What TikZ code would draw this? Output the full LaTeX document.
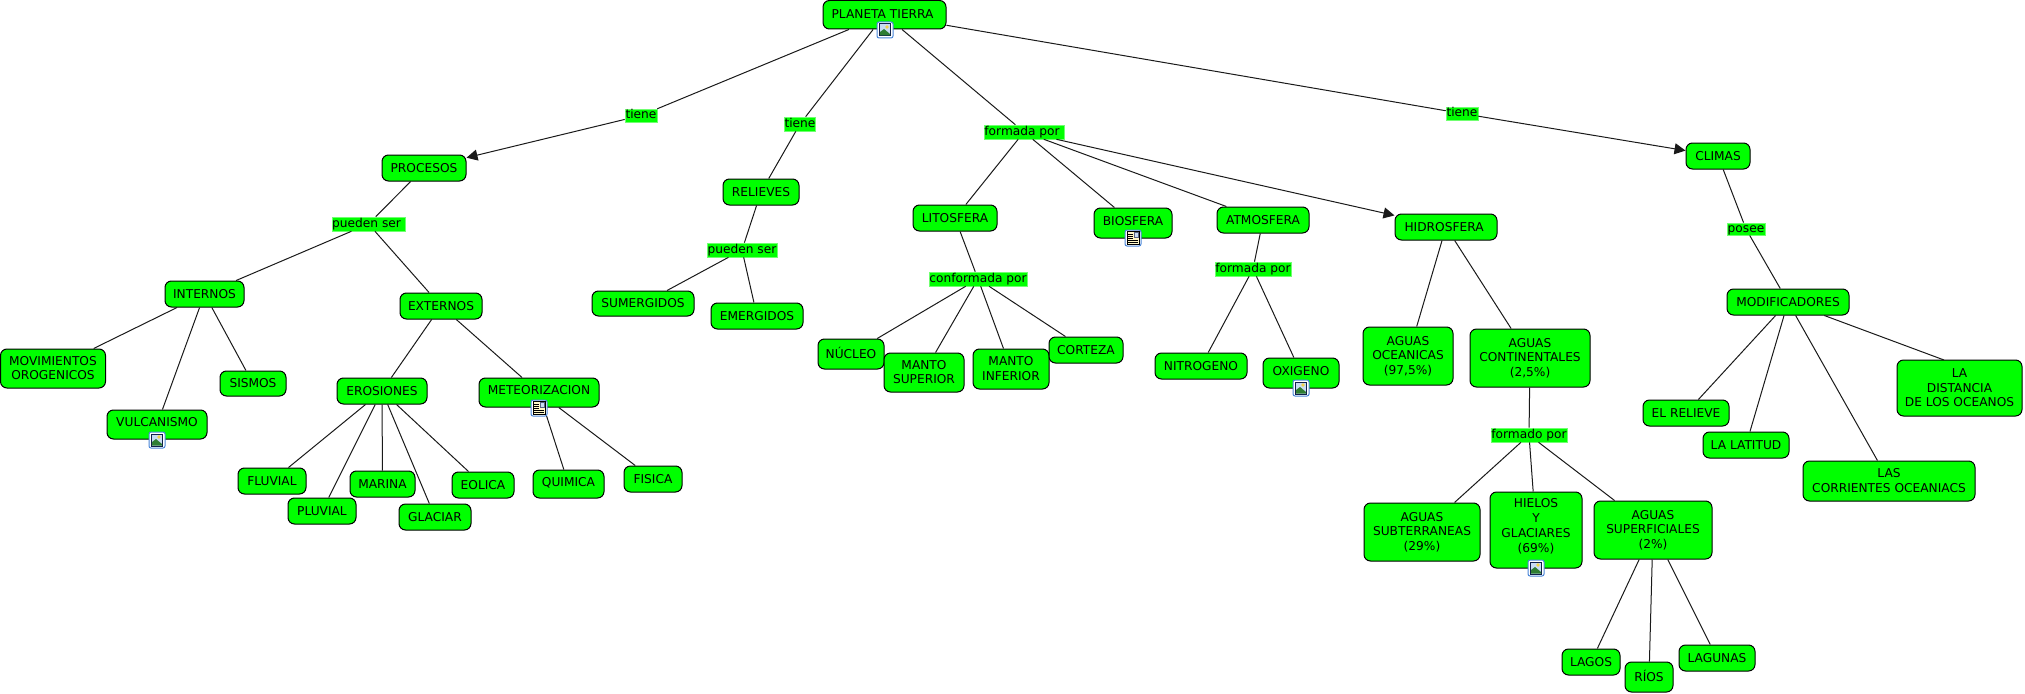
\documentclass[tikz,border=0pt]{standalone}
\usepackage{fontspec}
\setmainfont{DejaVu Sans}
\usetikzlibrary{arrows.meta}
\definecolor{cgreen}{HTML}{00FF00}
\definecolor{chalo}{HTML}{70FF70}
\definecolor{cline}{HTML}{1A1A1A}
\definecolor{cblue}{HTML}{4A86D8}
\definecolor{cnavy}{HTML}{10204A}
\definecolor{csky}{HTML}{C8DCF4}
\definecolor{cmount}{HTML}{2E7D32}
\definecolor{csun}{HTML}{F2D24A}
\definecolor{ccream}{HTML}{FFF8C8}
\tikzset{
  x=1pt,y=-1pt,
  concept/.style={draw=black,line width=1pt,fill=cgreen,rounded corners=6.5pt,inner sep=0pt,align=center,
    font=\fontsize{12.2}{14.7}\selectfont,text=black},
  linkph/.style={draw=chalo,line width=0.6pt,fill=cgreen,inner sep=0pt,align=center,
    font=\fontsize{12.2}{14.7}\selectfont,text=black},
  conn/.style={draw=cline,line width=1pt},
  arr/.style={conn,-{Triangle[length=11pt,width=11pt]}},
}
% {raise}{name}{x0}{y0}{x1}{y1}{text}
\newcommand\mkconcept[7]{%
  \pgfmathsetmacro\cx{(#3+#5)/2}\pgfmathsetmacro\cy{(#4+#6)/2}%
  \pgfmathsetmacro\cw{#5-#3}\pgfmathsetmacro\ch{#6-#4}%
  \node[concept,minimum width=\cw pt,minimum height=\ch pt] (#2) at (\cx,\cy)
    {\leavevmode\vrule width 0pt height 9.4pt depth 0pt\relax #7\vrule width 0pt height 0pt depth \dimexpr1.4pt+2\dimexpr#1pt\relax\relax\relax};}
\newcommand\mklink[6]{%
  \pgfmathsetmacro\cx{(#2+#4)/2}\pgfmathsetmacro\cy{(#3+#5)/2}%
  \pgfmathsetmacro\cw{#4-#2}\pgfmathsetmacro\ch{#5-#3}%
  \node[linkph,minimum width=\cw pt,minimum height=\ch pt] (#1) at (\cx,\cy)
    {\leavevmode\vrule width 0pt height 9.4pt depth 2.8pt\relax #6};}
\newcommand\picicon[2]{%
  \begin{scope}[shift={(#1,#2)}]
    \draw[cblue,line width=1pt,fill=white,rounded corners=2pt] (-8,-8) rectangle (8,8);
    \fill[cnavy] (-6,-6.5) rectangle (6,6.5);
    \fill[csky] (-5,-5.5) rectangle (5,5.5);
    \fill[csun] (2,-3) circle (1.8);
    \fill[cmount] (-5,5.5) -- (-5,2) -- (-1,-1) -- (5,4) -- (5,5.5) -- cycle;
  \end{scope}}
\newcommand\docicon[2]{%
  \begin{scope}[shift={(#1,#2)}]
    \draw[cblue,line width=1pt,fill=white,rounded corners=2pt] (-8,-8) rectangle (8,8);
    \draw[black,line width=.8pt,fill=ccream] (-6,-6.5) rectangle (6,6.5);
    \fill[cnavy!70] (0.5,-6) rectangle (5.5,-0.5);
    \fill[csky] (1.5,-5) rectangle (4.5,-1.5);
    \foreach \yy in {-4,-2,0}{\draw[black,line width=.8pt] (-5,\yy) -- (-0.5,\yy);}
    \foreach \yy in {2,4}{\draw[black,line width=.8pt] (-5,\yy) -- (5,\yy);}
  \end{scope}}
\begin{document}
\begin{tikzpicture}
\useasboundingbox (0,0) rectangle (2025,693);
\fill[white] (0,0) rectangle (2025,693);
% concepts
\mkconcept{0.6}{planeta}{823}{0.5}{946}{29}{PLANETA TIERRA~}
\mkconcept{0}{procesos}{382}{155}{466}{181}{PROCESOS}
\mkconcept{0}{relieves}{723}{179}{799}{205}{RELIEVES}
\mkconcept{0}{litosfera}{913}{205}{997}{231}{LITOSFERA}
\mkconcept{2}{biosfera}{1094}{208}{1172}{238}{BIOSFERA}
\mkconcept{0}{atmosfera}{1217}{207}{1309}{233}{ATMOSFERA}
\mkconcept{0}{hidrosfera}{1395}{214}{1497}{240}{HIDROSFERA~}
\mkconcept{0}{climas}{1686}{143}{1750}{169}{CLIMAS}
\mkconcept{0}{internos}{165}{281}{244}{307}{INTERNOS}
\mkconcept{0}{externos}{400}{293}{482}{319}{EXTERNOS}
\mkconcept{0}{movimientos}{0.5}{349}{105.5}{388}{MOVIMIENTOS\\OROGENICOS}
\mkconcept{0}{sismos}{220}{371}{286}{396}{SISMOS}
\mkconcept{2}{vulcanismo}{107}{410}{207}{439}{VULCANISMO}
\mkconcept{0}{erosiones}{337}{378}{427}{404}{EROSIONES}
\mkconcept{2}{meteorizacion}{479}{378}{599}{407}{METEORIZACION}
\mkconcept{0}{fluvial}{238}{468}{306}{494}{FLUVIAL}
\mkconcept{0}{pluvial}{288}{498}{356}{524}{PLUVIAL}
\mkconcept{0}{marina}{350}{471}{415}{497}{MARINA}
\mkconcept{0}{glaciar}{399}{504}{471}{530}{GLACIAR}
\mkconcept{0}{eolica}{452}{472}{514}{498}{EOLICA}
\mkconcept{1.3}{quimica}{533}{470}{604}{498}{QUIMICA}
\mkconcept{0}{fisica}{624}{466}{682}{492}{FISICA}
\mkconcept{0}{sumergidos}{592}{291}{694}{316}{SUMERGIDOS}
\mkconcept{0}{emergidos}{711}{303}{803}{329}{EMERGIDOS}
\mkconcept{0}{nucleo}{818}{339}{884}{369}{NÚCLEO}
\mkconcept{0}{msuperior}{884}{353}{964}{392}{MANTO\\SUPERIOR}
\mkconcept{0}{minferior}{973}{349}{1049}{389}{MANTO\\INFERIOR}
\mkconcept{0}{corteza}{1049}{337}{1123}{363}{CORTEZA}
\mkconcept{0}{nitrogeno}{1155}{353}{1247}{379}{NITROGENO}
\mkconcept{2}{oxigeno}{1263}{358}{1339}{388}{OXIGENO}
\mkconcept{0}{oceanicas}{1363}{327}{1453}{385}{AGUAS\\OCEANICAS\\(97,5\%)}
\mkconcept{0}{continentales}{1470}{329}{1590}{387}{AGUAS\\CONTINENTALES\\(2,5\%)}
\mkconcept{0}{subterraneas}{1364}{503}{1480}{561}{AGUAS\\SUBTERRANEAS\\(29\%)}
\mkconcept{4}{hielos}{1490}{492}{1582}{568}{HIELOS\\Y\\GLACIARES\\(69\%)}
\mkconcept{0}{superficiales}{1594}{501}{1712}{559}{AGUAS\\SUPERFICIALES\\(2\%)}
\mkconcept{0}{lagos}{1562}{649}{1620}{675}{LAGOS}
\mkconcept{0}{rios}{1625}{662}{1673}{692}{RÍOS}
\mkconcept{0}{lagunas}{1679}{645}{1755}{671}{LAGUNAS}
\mkconcept{0}{modificadores}{1727}{289}{1849}{315}{MODIFICADORES}
\mkconcept{0}{elrelieve}{1643}{400}{1729}{426}{EL RELIEVE}
\mkconcept{0}{lalatitud}{1703}{432}{1789}{458}{LA LATITUD}
\mkconcept{0}{corrientes}{1803}{461}{1975}{501}{LAS\\CORRIENTES OCEANIACS}
\mkconcept{0}{distancia}{1897}{360}{2022}{416}{LA\\DISTANCIA\\DE LOS OCEANOS}
\coordinate (distanciatop) at (1944,360);
% linking phrases
\mklink{ltiene1}{625}{109}{657}{122}{tiene}
\mklink{ltiene2}{785}{117}{815}{131}{tiene}
\mklink{lformada}{984}{125}{1064}{139}{formada por~}
\mklink{ltiene4}{1446}{107}{1478}{120}{tiene}
\mklink{lpueden1}{332}{217}{405}{231}{pueden ser~}
\mklink{lpueden2}{707}{243}{777}{257}{pueden ser}
\mklink{lconformada}{929}{272}{1027}{286}{conformada por}
\mklink{lformadaatm}{1215}{262}{1291}{276}{formada por}
\mklink{lformado}{1491}{428}{1567}{442}{formado por}
\mklink{lposee}{1727}{223}{1765}{235}{posee}
% connectors
\draw[conn] (planeta) -- (ltiene1);
\draw[conn] (planeta) -- (ltiene2);
\draw[conn] (planeta) -- (lformada);
\draw[conn] (planeta) -- (ltiene4);
\draw[arr] (ltiene1) -- (procesos);
\draw[conn] (ltiene2) -- (relieves);
\draw[arr] (ltiene4) -- (climas);
\draw[conn] (lformada) -- (litosfera);
\draw[conn] (lformada) -- (biosfera);
\draw[conn] (lformada) -- (atmosfera);
\draw[arr] (lformada) -- (hidrosfera);
\draw[conn] (procesos) -- (lpueden1);
\draw[conn] (lpueden1) -- (internos);
\draw[conn] (lpueden1) -- (externos);
\draw[conn] (internos) -- (movimientos);
\draw[conn] (internos) -- (vulcanismo);
\draw[conn] (internos) -- (sismos);
\draw[conn] (externos) -- (erosiones);
\draw[conn] (externos) -- (meteorizacion);
\draw[conn] (erosiones) -- (fluvial);
\draw[conn] (erosiones) -- (pluvial);
\draw[conn] (erosiones) -- (marina);
\draw[conn] (erosiones) -- (glaciar);
\draw[conn] (erosiones) -- (eolica);
\draw[conn] (meteorizacion) -- (quimica);
\draw[conn] (meteorizacion) -- (fisica);
\draw[conn] (relieves) -- (lpueden2);
\draw[conn] (lpueden2) -- (sumergidos);
\draw[conn] (lpueden2) -- (emergidos);
\draw[conn] (litosfera) -- (lconformada);
\draw[conn] (lconformada) -- (nucleo);
\draw[conn] (lconformada) -- (msuperior);
\draw[conn] (lconformada) -- (minferior);
\draw[conn] (lconformada) -- (corteza);
\draw[conn] (atmosfera) -- (lformadaatm);
\draw[conn] (lformadaatm) -- (nitrogeno);
\draw[conn] (lformadaatm) -- (oxigeno);
\draw[conn] (hidrosfera) -- (oceanicas);
\draw[conn] (hidrosfera) -- (continentales);
\draw[conn] (continentales) -- (lformado);
\draw[conn] (lformado) -- (subterraneas);
\draw[conn] (lformado) -- (hielos);
\draw[conn] (lformado) -- (superficiales);
\draw[conn] (superficiales) -- (lagos);
\draw[conn] (superficiales) -- (rios);
\draw[conn] (superficiales) -- (lagunas);
\draw[conn] (climas) -- (lposee);
\draw[conn] (lposee) -- (modificadores);
\draw[conn] (modificadores) -- (elrelieve);
\draw[conn] (modificadores) -- (lalatitud);
\draw[conn] (modificadores) -- (corrientes);
\draw[conn] (modificadores) -- (distanciatop);
% resource icons
\picicon{885}{30}
\picicon{157}{440}
\docicon{539}{408}
\docicon{1133}{238}
\picicon{1301}{388}
\picicon{1536}{568}
\end{tikzpicture}
\end{document}
